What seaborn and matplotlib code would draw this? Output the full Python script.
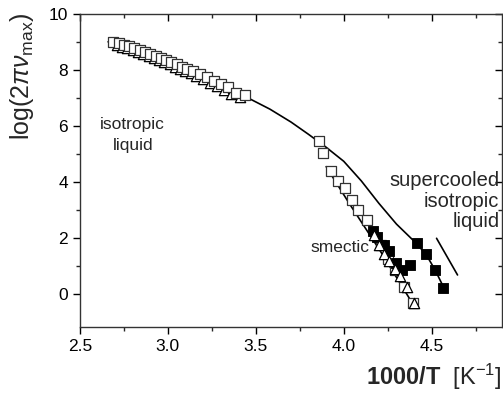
import matplotlib
matplotlib.use('Agg')
import matplotlib.pyplot as plt
import seaborn as sns

# open squares, isotropic liquid (high temperature)
iso_sq_x = [2.69, 2.72, 2.75, 2.78, 2.81, 2.84, 2.87, 2.90, 2.93, 2.96, 2.99, 3.02,
            3.05, 3.08, 3.11, 3.14, 3.18, 3.22, 3.26, 3.30, 3.34, 3.39, 3.44]
iso_sq_y = [9.00, 8.96, 8.90, 8.84, 8.77, 8.70, 8.63, 8.56, 8.49, 8.42, 8.35, 8.28,
            8.20, 8.12, 8.04, 7.96, 7.85, 7.74, 7.62, 7.50, 7.38, 7.18, 7.12]
# open triangles mostly hidden under the isotropic squares
iso_tri_x = [2.71, 2.74, 2.77, 2.80, 2.83, 2.86, 2.89, 2.92, 2.95, 2.98, 3.01, 3.04,
             3.07, 3.10, 3.13, 3.16, 3.20, 3.24, 3.28, 3.32, 3.36, 3.41]
iso_tri_y = [8.88, 8.83, 8.77, 8.70, 8.63, 8.56, 8.49, 8.42, 8.35, 8.28, 8.20, 8.12,
             8.04, 7.96, 7.88, 7.78, 7.66, 7.54, 7.42, 7.30, 7.14, 7.02]
# open squares, steep branch
smec_sq_x = [3.86, 3.88, 3.925, 3.965, 4.005, 4.045, 4.08, 4.13, 4.21, 4.25, 4.29, 4.34, 4.395]
smec_sq_y = [5.46, 5.04, 4.38, 4.05, 3.78, 3.36, 3.00, 2.64, 1.75, 1.27, 0.86, 0.26, -0.30]
# open triangles, smectic
smec_tri_x = [4.17, 4.20, 4.23, 4.26, 4.29, 4.32, 4.36, 4.40]
smec_tri_y = [2.10, 1.75, 1.45, 1.20, 0.90, 0.65, 0.25, -0.30]
# filled squares, smectic
smec_fill_x = [4.165, 4.19, 4.23, 4.26, 4.295, 4.33, 4.375]
smec_fill_y = [2.25, 2.05, 1.75, 1.55, 1.10, 0.85, 1.05]
# filled squares, supercooled isotropic liquid
super_x = [4.415, 4.47, 4.52, 4.565]
super_y = [1.82, 1.45, 0.86, 0.21]
# fit curve through isotropic / supercooled data
fit_x = [2.66, 2.80, 3.00, 3.20, 3.44, 3.58, 3.70, 3.80, 3.90, 4.00, 4.10, 4.20,
         4.30, 4.415, 4.47, 4.52, 4.57]
fit_y = [9.00, 8.72, 8.26, 7.72, 7.05, 6.60, 6.14, 5.70, 5.24, 4.74, 4.04, 3.24,
         2.50, 1.80, 1.40, 0.86, 0.22]
# line through smectic data
smec_line_x = [3.90, 4.03, 4.205, 4.40]
smec_line_y = [4.55, 3.25, 1.57, -0.42]

sns.set_style('ticks')
plt.rcParams['font.family'] = ['Liberation Sans', 'DejaVu Sans']
plt.rcParams['mathtext.fontset'] = 'custom'
plt.rcParams['mathtext.rm'] = 'Liberation Sans'
plt.rcParams['mathtext.it'] = 'Liberation Sans:italic'
plt.rcParams['mathtext.bf'] = 'Liberation Sans:bold'

fig = plt.figure(figsize=(5.03, 3.94), dpi=100)
ax = fig.add_axes([0.159, 0.170, 0.839, 0.795])

sns.lineplot(x=fit_x, y=fit_y, ax=ax, color='black', lw=1.2, sort=False)
sns.lineplot(x=smec_line_x, y=smec_line_y, ax=ax, color='black', lw=1.2, sort=False)

sq = dict(marker='s', s=62, facecolor='white', edgecolor='#333333', linewidth=0.9, zorder=3)
tri = dict(marker='^', s=55, facecolor='white', edgecolor='black', linewidth=0.9)
sns.scatterplot(x=iso_tri_x, y=iso_tri_y, ax=ax, zorder=2.5, **tri)
sns.scatterplot(x=iso_sq_x, y=iso_sq_y, ax=ax, **sq)
sns.scatterplot(x=smec_sq_x, y=smec_sq_y, ax=ax, **sq)
sns.scatterplot(x=smec_fill_x, y=smec_fill_y, ax=ax, marker='s', s=62,
                color='black', edgecolor='black', zorder=3)
sns.scatterplot(x=smec_tri_x, y=smec_tri_y, ax=ax, zorder=4, **tri)
sns.scatterplot(x=super_x, y=super_y, ax=ax, marker='s', s=62,
                color='black', edgecolor='black', zorder=3)

# direction arrow (plain line)
ax.annotate('', xy=(4.655, 0.60), xytext=(4.52, 2.08),
            arrowprops=dict(arrowstyle='-', color='black', lw=1.2))

ax.text(2.80, 5.68, 'isotropic\nliquid', ha='center', va='center',
        fontsize=12.5, linespacing=1.5, zorder=6)
ax.text(3.98, 1.68, 'smectic', ha='center', va='center', fontsize=12.5, zorder=6)
ax.text(4.885, 3.32, 'supercooled\nisotropic\nliquid', ha='right', va='center',
        fontsize=14.5, linespacing=1.08, zorder=6)

ax.set_xlim(2.5, 4.9)
ax.set_ylim(-1.17, 10)
ax.set_xticks([2.5, 3.0, 3.5, 4.0, 4.5])
ax.set_xticks([2.75, 3.25, 3.75, 4.25, 4.75], minor=True)
ax.set_yticks([0, 2, 4, 6, 8, 10])
ax.set_yticks([1, 3, 5, 7, 9], minor=True)
ax.tick_params(axis='both', which='major', labelsize=12.5, length=5, width=1,
               direction='out', colors='black')
ax.tick_params(axis='both', which='minor', length=3, width=1, direction='out')
ax.tick_params(top=True, right=True, which='both')

for s in ax.spines.values():
    s.set_visible(True)
    s.set_color('#333333')
    s.set_linewidth(1.0)

# top / right ticks point inward
for t in ax.xaxis.get_major_ticks() + ax.xaxis.get_minor_ticks():
    t.tick2line.set_marker(3)
for t in ax.yaxis.get_major_ticks() + ax.yaxis.get_minor_ticks():
    t.tick2line.set_marker(0)

ax.set_ylabel(r'log(2$\pi\nu_{\mathrm{max}}$)', fontsize=18)
ax.yaxis.set_label_coords(-0.104, 0.80)
ax.set_xlabel(r'$\mathbf{1000/T}$  [K$^{\mathrm{-1}}$]', fontsize=17, loc='right', labelpad=6)

plt.savefig('out.png', dpi=100)
plt.close()
